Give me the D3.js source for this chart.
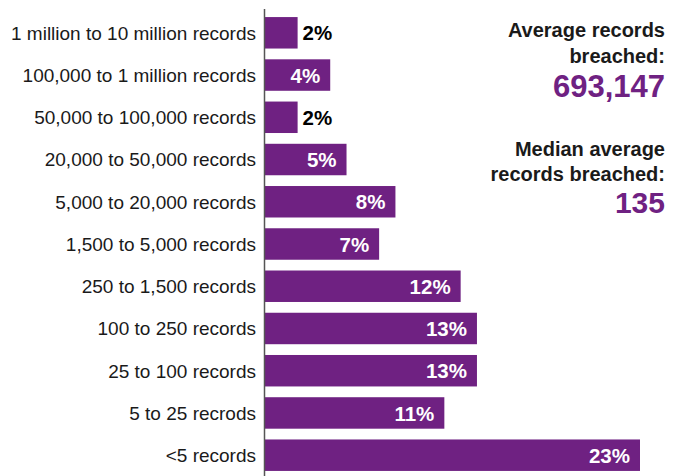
<!DOCTYPE html>
<html>
<head>
<meta charset="utf-8">
<script src="https://cdn.jsdelivr.net/npm/d3@7"></script>
<style>
  html, body { margin: 0; padding: 0; background: #fff; }
  svg { display: block; font-family: "Liberation Sans", Arial, sans-serif; }
</style>
</head>
<body>
<svg id="chart" width="681" height="476"></svg>
<script>
// Share of breaches by number of records exposed
const categories = [
  "1 million to 10 million records",
  "100,000 to 1 million records",
  "50,000 to 100,000 records",
  "20,000 to 50,000 records",
  "5,000 to 20,000 records",
  "1,500 to 5,000 records",
  "250 to 1,500 records",
  "100 to 250 records",
  "25 to 100 records",
  "5 to 25 recrods",
  "<5 records"
];
const shares = [2, 4, 2, 5, 8, 7, 12, 13, 13, 11, 23];

const averageLabel = ["Average records", "breached:"];
const averageValue = "693,147";
const medianLabel = ["Median average", "records breached:"];
const medianValue = "135";

const purple = "#6f2182";
const ink = "#1a1a1a";

const svg = d3.select("#chart");

const x = d3.scaleLinear().domain([0, 23]).range([265, 640]);
const y = d3.scaleBand().domain(categories).range([12, 476]).paddingInner(0.255).paddingOuter(0.12);

// bars
svg.append("g").selectAll("rect")
  .data(categories)
  .join("rect")
  .attr("x", x(0))
  .attr("y", d => y(d))
  .attr("width", (d, i) => x(shares[i]) - x(0))
  .attr("height", y.bandwidth())
  .attr("fill", purple);

// vertical axis line
svg.append("line")
  .attr("x1", 264.5).attr("x2", 264.5)
  .attr("y1", 9).attr("y2", 476)
  .attr("stroke", "#555").attr("stroke-width", 1.5);

// category labels
svg.append("g").selectAll("text")
  .data(categories)
  .join("text")
  .attr("x", 256)
  .attr("y", d => y(d) + y.bandwidth() / 2)
  .attr("dy", "0.36em")
  .attr("text-anchor", "end")
  .attr("font-size", 19)
  .attr("fill", ink)
  .text(d => d);

// value labels: inside the bar when it is wide enough, otherwise just after it
svg.append("g").selectAll("text")
  .data(categories)
  .join("text")
  .each(function (d, i) {
    const v = shares[i];
    const inside = v >= 4;
    d3.select(this)
      .attr("x", inside ? x(v) - 10 : x(v) + 5)
      .attr("y", y(d) + y.bandwidth() / 2)
      .attr("dy", "0.37em")
      .attr("text-anchor", inside ? "end" : "start")
      .attr("font-size", 20.5)
      .attr("font-weight", "bold")
      .attr("fill", inside ? "#fff" : "#000")
      .text(v + "%");
  });

// summary statistics on the right
const stats = svg.append("g").attr("text-anchor", "end");
function statBlock(lines, value, baselines, valueBaseline, valueSize) {
  lines.forEach((t, i) => {
    stats.append("text")
      .attr("x", 665).attr("y", baselines[i])
      .attr("font-size", 20).attr("font-weight", "bold")
      .attr("fill", ink).text(t);
  });
  stats.append("text")
    .attr("x", 665).attr("y", valueBaseline)
    .attr("font-size", valueSize).attr("font-weight", "bold")
    .attr("fill", purple).text(value);
}
statBlock(averageLabel, averageValue, [37, 63], 97, 31);
statBlock(medianLabel, medianValue, [156, 181], 213, 30);
</script>
</body>
</html>
